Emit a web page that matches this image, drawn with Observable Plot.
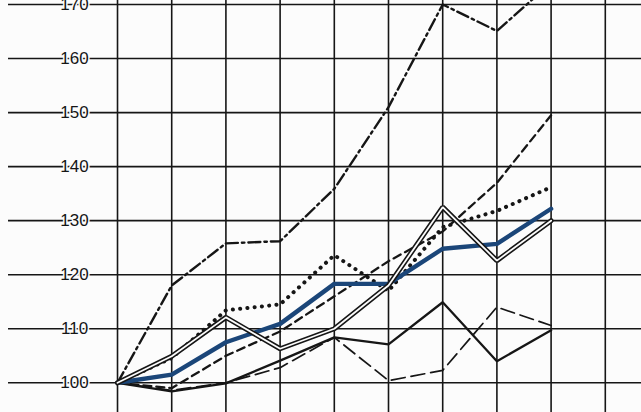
<!DOCTYPE html>
<html>
<head>
<meta charset="utf-8">
<script src="https://cdn.jsdelivr.net/npm/d3@7"></script>
<script src="https://cdn.jsdelivr.net/npm/@observablehq/plot@0.6"></script>
<style>
  html, body { margin: 0; padding: 0; background: #fcfcfc; }
  #chart { width: 641px; height: 412px; overflow: hidden; }
</style>
</head>
<body>
<div id="chart"></div>
<script>
// Periods (x positions along the grid)
const periods = [0, 1, 2, 3, 4, 5, 6, 7, 8];
const gridX = [0, 1, 2, 3, 4, 5, 6, 7, 8, 9];
const yTicks = [100, 110, 120, 130, 140, 150, 160, 170];

// Series values
const dashDot    = [100, 118.0, 125.8, 126.2, 135.9, 151.0, 170.0, 165.1, 174.0];
const dashed     = [100, 99.0, 105.0, 109.5, 116.0, 122.5, 128.0, 137.0, 149.5];
const longDashed = [100, 98.6, 100.0, 102.8, 108.4, 100.4, 102.3, 114.0, 110.6];
const solid      = [100, 98.4, 99.9, 104.1, 108.4, 107.1, 114.9, 104.0, 109.7];
const dotted     = [100, 104.6, 113.4, 114.5, 123.6, 117.0, 128.8, 131.8, 136.2];
const blue       = [100, 101.5, 107.5, 110.9, 118.3, 118.3, 124.8, 125.7, 132.2];
const double     = [100, 104.9, 112.1, 106.3, 110.0, 118.0, 132.5, 122.6, 130.0];

const rows = arr => periods.map((p, i) => ({x: p, y: arr[i]}));
const bg = "#fcfcfc";
const ink = "#161616";

const chart = Plot.plot({
  width: 641,
  height: 412,
  margin: 0,
  style: {background: bg, fontFamily: "'Liberation Sans', Arial, sans-serif"},
  x: {domain: [-2.159, 9.668], axis: null},
  y: {domain: [94.5, 170.74], axis: null},
  marks: [
    Plot.ruleX(gridX, {stroke: ink, strokeWidth: 1.6}),
    Plot.ruleY(yTicks, {x1: -2.011, x2: 9.668, stroke: ink, strokeWidth: 1.6}),
    Plot.text(yTicks, {x: -0.793, y: d => d, text: d => String(d), fontSize: 17,
      fill: ink, stroke: bg, strokeWidth: 3, textAnchor: "middle"}),
    Plot.line(rows(dashDot), {x: "x", y: "y", stroke: ink, strokeWidth: 2.4,
      strokeDasharray: "12,4,2.5,4", clip: true}),
    Plot.line(rows(dashed), {x: "x", y: "y", stroke: ink, strokeWidth: 2.3,
      strokeDasharray: "8,5", clip: true}),
    Plot.line(rows(longDashed), {x: "x", y: "y", stroke: ink, strokeWidth: 1.7,
      strokeDasharray: "14,6", clip: true}),
    Plot.line(rows(solid), {x: "x", y: "y", stroke: ink, strokeWidth: 2.3, clip: true,
      strokeLinejoin: "miter"}),
    Plot.line(rows(dotted), {x: "x", y: "y", stroke: ink, strokeWidth: 4,
      strokeDasharray: "0.1,7.2", strokeLinecap: "round", clip: true}),
    Plot.line(rows(blue), {x: "x", y: "y", stroke: "#1b4679", strokeWidth: 4.4,
      strokeLinejoin: "round", clip: true}),
    Plot.line(rows(double), {x: "x", y: "y", stroke: ink, strokeWidth: 5,
      strokeLinejoin: "miter", clip: true}),
    Plot.line(rows(double), {x: "x", y: "y", stroke: bg, strokeWidth: 1.8,
      strokeLinejoin: "miter", clip: true})
  ]
});
document.getElementById("chart").appendChild(chart);
</script>
</body>
</html>
